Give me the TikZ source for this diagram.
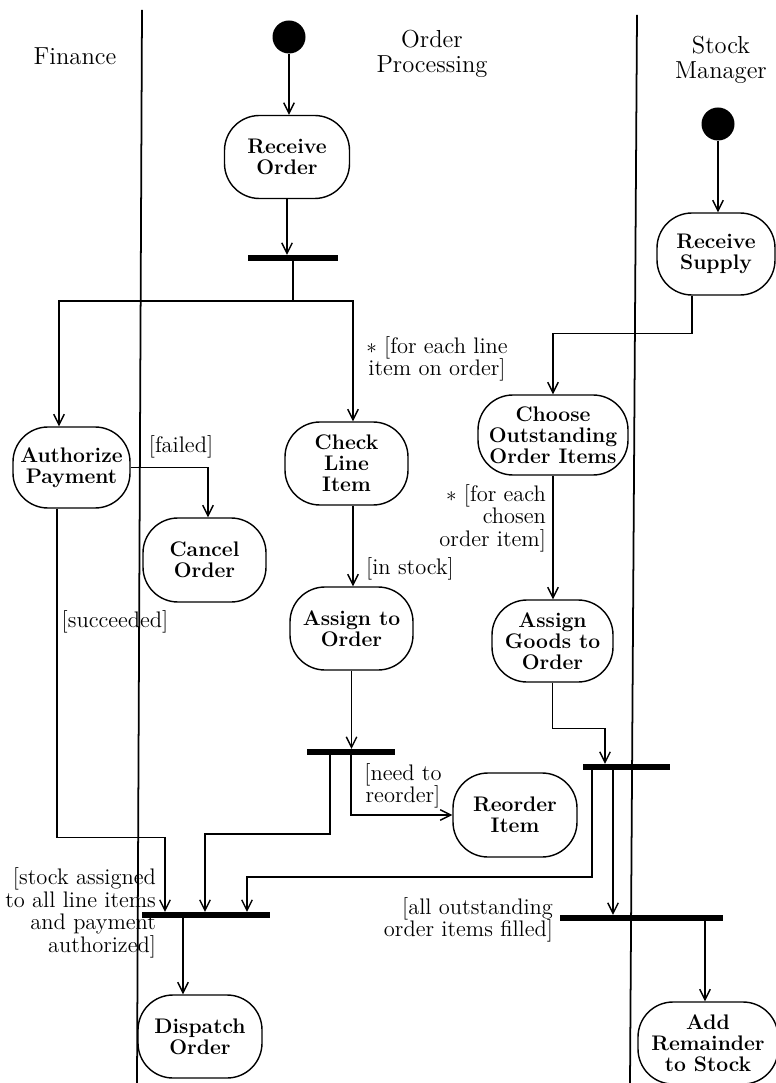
\documentclass[tikz,border=0pt]{standalone}
\usepackage{tikz}
\usetikzlibrary{arrows.meta, positioning}

\begin{document}
\begin{tikzpicture}[
    activity/.style={draw, thick, rounded corners=0.7cm,
      minimum width=2.46cm, minimum height=1.66cm, inner sep=1pt,
      align=center, font=\fontsize{12}{12}\selectfont\bfseries},
    initial/.style={circle, fill=black, minimum size=0.66cm, inner sep=0pt},
    syncbar/.style={fill=black, minimum height=0.11cm, inner sep=0pt},
    lanetitle/.style={align=center, font=\fontsize{14}{14.2}\selectfont},
    guard/.style={align=center, inner sep=1pt,
      font=\fontsize{12.8}{12.8}\selectfont},
    lane/.style={line width=1pt},
    arrow/.style={-{Straight Barb[length=6pt, width=6pt]}, thick},
]
\useasboundingbox (0,0) rectangle (15.5,-21.66);
% Swimlanes
\node[lanetitle] (finance) at (1.5,-1.12) {Finance};
\node[lanetitle] (orderproc) at (8.64,-1.08) {Order\\Processing};
\node[lanetitle] (stockmgr) at (14.42,-1.2) {Stock\\Manager};
\draw[lane] (2.84,-0.2) -- (2.74,-21.66);
\draw[lane] (12.74,-0.3) -- (12.6,-21.66);
% Nodes
\node[initial] (start) at (5.78,-0.74) {};
\node[activity, minimum width=2.5cm] (receiveorder) at (5.74,-3.14)
    {Receive\\Order};
\node[syncbar, minimum width=1.8cm] (fork1) at (5.86,-5.16) {};
\node[activity, minimum width=2.34cm, minimum height=1.62cm] (authorize)
    at (1.43,-9.35) {Authorize\\Payment};
\node[activity] (checkitem) at (6.93,-9.27) {Check\\Line\\Item};
\node[activity, minimum height=1.68cm] (cancel) at (4.09,-11.2)
    {Cancel\\Order};
\node[activity] (assign) at (7.03,-12.57) {Assign to\\Order};
\node[syncbar, minimum width=1.76cm] (fork2) at (7.02,-15.04) {};
\node[activity, minimum width=2.48cm, minimum height=1.68cm] (reorder)
    at (10.3,-16.3) {Reorder\\Item};
\node[syncbar, minimum width=2.56cm] (join1) at (4.12,-18.3) {};
\node[activity, minimum width=2.48cm] (dispatch) at (4.0,-20.73)
    {Dispatch\\Order};
\node[initial] (start2) at (14.36,-2.48) {};
\node[activity, minimum width=2.36cm, minimum height=1.64cm] (supply)
    at (14.32,-5.08) {Receive\\Supply};
\node[activity, minimum width=3.0cm, minimum height=1.6cm] (choose)
    at (11.06,-8.7) {Choose\\Outstanding\\Order Items};
\node[activity, minimum width=2.42cm, minimum height=1.64cm] (goods)
    at (11.05,-12.82) {Assign\\Goods to\\Order};
\node[syncbar, minimum width=1.74cm] (fork3) at (12.53,-15.34) {};
\node[syncbar, minimum width=3.26cm] (join2) at (12.83,-18.36) {};
\node[activity, minimum width=2.8cm, minimum height=1.64cm] (addstock)
    at (14.16,-20.86) {Add\\Remainder\\to Stock};
% Guards
\node[guard] (foreachline) at (8.74,-7.18) {$*$ [for each line\\item on order]};
\node[guard] (failed) at (3.62,-8.94) {[failed]};
\node[guard] (succeeded) at (2.3,-12.44) {[succeeded]};
\node[guard] (instock) at (8.2,-11.38) {[in stock]};
\node[guard, align=right, anchor=east] (foreachchosen) at (10.96,-10.36)
    {$*$ [for each\\chosen\\order item]};
\node[guard] (needreorder) at (8.06,-15.72) {[need to\\reorder]};
\node[guard, align=right, anchor=east] (stockassigned) at (3.16,-18.26)
    {[stock assigned\\to all line items\\and payment\\authorized]};
\node[guard, align=right, anchor=east] (allfilled) at (11.1,-18.4)
    {[all outstanding\\order items filled]};
% Arrows
\draw[arrow] (start.south) -- (start.south |- receiveorder.north);
\draw[arrow] (receiveorder.south) -- (receiveorder.south |- fork1.north);
\draw[thick] (fork1.south) -- ++(0,-0.8) coordinate (split1);
\draw[arrow] (split1) -| ([xshift=-0.25cm]authorize.north);
\draw[arrow] (split1) -| ([xshift=0.13cm]checkitem.north);
\draw[arrow] (authorize.east) -| ([xshift=0.07cm]cancel.north);
\draw[arrow] ([xshift=-0.29cm]authorize.south) -- ++(0,-6.58)
    -| ([xshift=-0.82cm]join1.north);
\draw[arrow] ([xshift=0.13cm]checkitem.south)
    -- ([xshift=0.13cm]checkitem.south |- assign.north);
\draw[arrow] (assign.south) -- (assign.south |- fork2.north);
\draw[arrow] ([xshift=-0.42cm]fork2.south) -- ++(0,-1.58)
    -| ([xshift=-0.02cm]join1.north);
\draw[arrow] (fork2.south) |- (reorder.west);
\draw[arrow] (start2.south) -- (start2.south |- supply.north);
\draw[arrow] ([xshift=-0.48cm]supply.south) -- ++(0,-0.76) -| (choose.north);
\draw[arrow] (choose.south) -- (choose.south |- goods.north);
\draw[arrow] (goods.south) -- ++(0,-0.92) -| ([xshift=-0.43cm]fork3.north);
\draw[arrow] ([xshift=-0.69cm]fork3.south) -- ++(0,-2.14)
    -| ([xshift=0.82cm]join1.north);
\draw[arrow] ([xshift=-0.27cm]fork3.south)
    -- ([xshift=-0.27cm]fork3.south |- join2.north);
\draw[arrow] ([xshift=1.27cm]join2.south)
    -- ([xshift=1.27cm]join2.south |- addstock.north);
\draw[arrow] ([xshift=-0.46cm]join1.south)
    -- ([xshift=-0.46cm]join1.south |- dispatch.north);
\end{tikzpicture}
\end{document}
